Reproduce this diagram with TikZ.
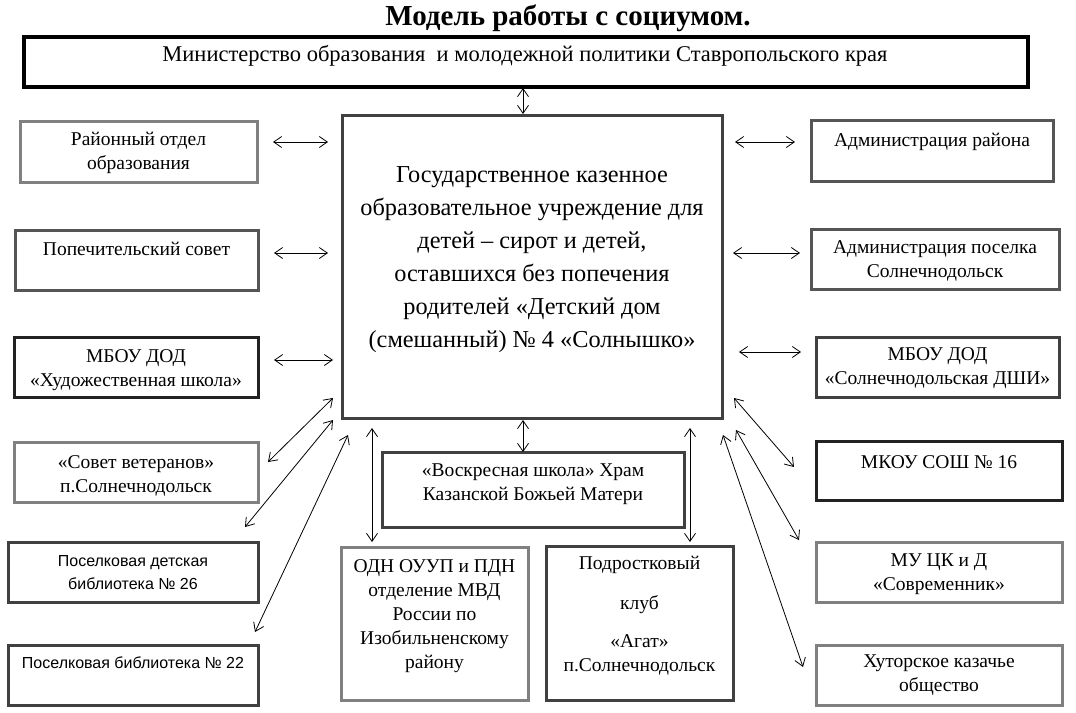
\documentclass[tikz,border=0pt]{standalone}
\usepackage{fontspec}
\setmainfont{Liberation Serif}
\newfontfamily\arialf{Liberation Sans}
\usetikzlibrary{arrows.meta}
\definecolor{gA}{HTML}{808080}
\definecolor{gB}{HTML}{555555}
\definecolor{gC}{HTML}{404040}
\definecolor{gD}{HTML}{222222}
\begin{document}
\begin{tikzpicture}[x=1pt,y=-1pt,
  box/.style={draw, line width=3pt, inner sep=0pt, outer sep=0pt},
  txt/.style={align=center, inner sep=0pt, font=\fontsize{19.5}{24}\selectfont},
  atxt/.style={align=center, inner sep=0pt, font=\arialf\fontsize{16}{23}\selectfont},
  arr/.style={{Straight Barb[length=8pt,width=11pt]}-{Straight Barb[length=8pt,width=11pt]}, line width=0.8pt},
]
\useasboundingbox (0,0) rectangle (1076,712);
% title
\node[inner sep=0pt, font=\fontsize{29}{32}\selectfont\bfseries] (title) at (568,18) {Модель работы с социумом.};
% boxes
\node[box, draw=black, line width=3.5pt, minimum width=1004pt, minimum height=50pt] (min) at (526,62) {};
\node[box, draw=gC, minimum width=380pt, minimum height=303pt] (ctr) at (532,266.5) {};
\node[box, draw=gA, minimum width=237pt, minimum height=61pt] (rayon) at (138.5,151.5) {};
\node[box, draw=gB, minimum width=243pt, minimum height=60pt] (popech) at (136.5,260) {};
\node[box, draw=gD, minimum width=244pt, minimum height=60pt] (hud) at (136,367) {};
\node[box, draw=gA, minimum width=244pt, minimum height=60pt] (veter) at (136,472) {};
\node[box, draw=gC, minimum width=250pt, minimum height=60pt] (lib26) at (133,572) {};
\node[box, draw=gC, minimum width=250pt, minimum height=60pt] (lib22) at (133,675) {};
\node[box, draw=gB, minimum width=242pt, minimum height=61pt] (admr) at (932,150.5) {};
\node[box, draw=gB, minimum width=248pt, minimum height=60pt] (admp) at (935,259) {};
\node[box, draw=gC, minimum width=243pt, minimum height=60pt] (dshi) at (937.5,367) {};
\node[box, draw=gD, minimum width=246pt, minimum height=59pt] (mkou) at (939,470.5) {};
\node[box, draw=gA, minimum width=246pt, minimum height=60pt] (mucd) at (939,572) {};
\node[box, draw=gA, minimum width=246pt, minimum height=60pt] (hutor) at (939,675) {};
\node[box, draw=gC, minimum width=302pt, minimum height=75pt] (voskr) at (533,489.5) {};
\node[box, draw=gA, minimum width=187pt, minimum height=153pt] (odn) at (434.5,623.5) {};
\node[box, draw=gC, minimum width=187pt, minimum height=154pt] (podr) at (639.5,623) {};
% texts
\node[txt, font=\fontsize{22.5}{26}\selectfont] (min-t) at (525,56) {Министерство образования\ \ и молодежной политики Ставропольского края};
\node[txt, font=\fontsize{24.3}{33}\selectfont] (ctr-t) at (532,259.5) {Государственное казенное\\образовательное учреждение для\\детей – сирот и детей,\\оставшихся без попечения\\родителей «Детский дом\\(смешанный) № 4 «Солнышко»};
\node[txt] (rayon-t) at (138.5,152.5) {Районный отдел\\образования};
\node[txt] (popech-t) at (136.5,249) {Попечительский совет};
\node[txt] (hud-t) at (136,370) {МБОУ ДОД\\«Художественная школа»};
\node[txt] (veter-t) at (136,476) {«Совет ветеранов»\\п.Солнечнодольск};
\node[atxt] (lib26-t) at (133,573) {Поселковая детская\\библиотека № 26};
\node[atxt] (lib22-t) at (133,663) {Поселковая библиотека № 22};
\node[txt] (admr-t) at (932,142) {Администрация района};
\node[txt] (admp-t) at (935,261) {Администрация поселка\\Солнечнодольск};
\node[txt] (dshi-t) at (937.5,368) {МБОУ ДОД\\«Солнечнодольская ДШИ»};
\node[txt] (mkou-t) at (939,462) {МКОУ СОШ № 16};
\node[txt] (mucd-t) at (939,574) {МУ ЦК и Д\\«Современник»};
\node[txt] (hutor-t) at (939,675.5) {Хуторское казачье\\общество};
\node[txt] (voskr-t) at (533,484.5) {«Воскресная школа» Храм\\Казанской Божьей Матери};
\node[txt] (odn-t) at (434.5,616) {ОДН ОУУП и ПДН\\отделение МВД\\России по\\Изобильненскому\\району};
\node[txt] (podr-t) at (639.5,616) {Подростковый\\[16pt]клуб\\[14pt]«Агат»\\п.Солнечнодольск};
% connector end points
\coordinate (m1) at (523,88);   \coordinate (m2) at (523,114);
\coordinate (r1) at (273,142);  \coordinate (r2) at (328,142);
\coordinate (p1) at (274,253);  \coordinate (p2) at (328,253);
\coordinate (h1) at (274,360);  \coordinate (h2) at (333,360);
\coordinate (ar1) at (735,142); \coordinate (ar2) at (795,142);
\coordinate (ap1) at (733,253); \coordinate (ap2) at (800,253);
\coordinate (ds1) at (739,352); \coordinate (ds2) at (801,352);
\coordinate (v1) at (268,462);  \coordinate (v2) at (333,398);
\coordinate (l26a) at (245,527); \coordinate (l26b) at (333,420);
\coordinate (l22a) at (255,632); \coordinate (l22b) at (348,435);
\coordinate (mk1) at (734,398); \coordinate (mk2) at (794,467);
\coordinate (mu1) at (736,430); \coordinate (mu2) at (799,540);
\coordinate (hu1) at (723,435); \coordinate (hu2) at (803,667);
\coordinate (od1) at (372,428); \coordinate (od2) at (372,542);
\coordinate (vo1) at (523,420); \coordinate (vo2) at (523,452);
\coordinate (po1) at (690,428); \coordinate (po2) at (690,542);
% connectors
\foreach \a/\b in {m1/m2, r1/r2, p1/p2, h1/h2, ar1/ar2, ap1/ap2, ds1/ds2, v1/v2, l26a/l26b, l22a/l22b, mk1/mk2, mu1/mu2, hu1/hu2, od1/od2, vo1/vo2, po1/po2}
  \draw[arr] (\a) -- (\b);
\end{tikzpicture}
\end{document}
